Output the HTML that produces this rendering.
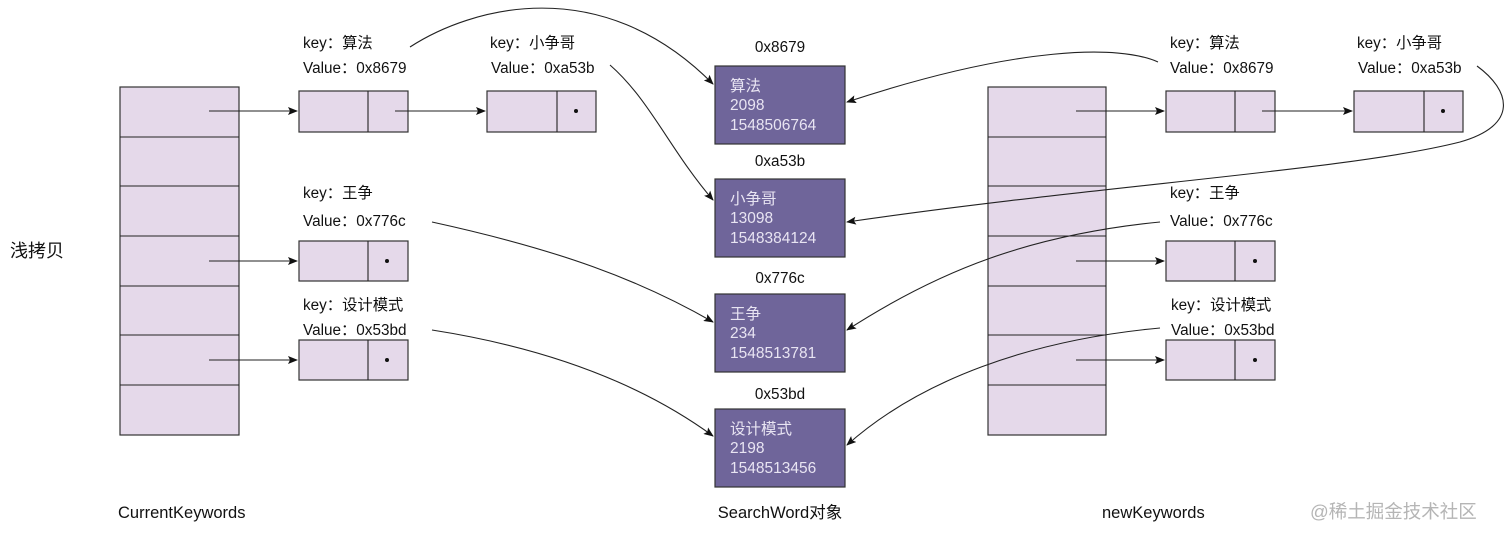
<!DOCTYPE html>
<html><head><meta charset="utf-8"><style>
html,body{margin:0;padding:0;background:#fff}
svg{display:block}
text{font-family:"Liberation Sans","Noto Sans CJK SC",sans-serif;font-size:15.3px;fill:#111}
.cell{fill:#e5d9ea;stroke:#333;stroke-width:1.2}
.pb{fill:#6f659a;stroke:#333;stroke-width:1.2}
.pt{fill:#e8e4f2;font-size:15.5px}
.ln{fill:none;stroke:#222;stroke-width:1.1}
</style></head><body>
<svg width="1512" height="536" viewBox="0 0 1512 536" xmlns="http://www.w3.org/2000/svg">
<defs><marker id="a" markerWidth="10" markerHeight="8" refX="9" refY="4" orient="auto" markerUnits="userSpaceOnUse"><path d="M0,0 L10,4 L0,8 L2,4 z" fill="#111"/></marker></defs>

<text x="10" y="257" style="font-size:18px">浅拷贝</text>

<g>
<rect class="cell" x="120" y="87" width="119" height="348"/>
<line class="ln" x1="120" y1="137" x2="239" y2="137"/>
<line class="ln" x1="120" y1="186" x2="239" y2="186"/>
<line class="ln" x1="120" y1="236" x2="239" y2="236"/>
<line class="ln" x1="120" y1="286" x2="239" y2="286"/>
<line class="ln" x1="120" y1="335" x2="239" y2="335"/>
<line class="ln" x1="120" y1="385" x2="239" y2="385"/>
</g>
<g>
<rect class="cell" x="988" y="87" width="118" height="348"/>
<line class="ln" x1="988" y1="137" x2="1106" y2="137"/>
<line class="ln" x1="988" y1="186" x2="1106" y2="186"/>
<line class="ln" x1="988" y1="236" x2="1106" y2="236"/>
<line class="ln" x1="988" y1="286" x2="1106" y2="286"/>
<line class="ln" x1="988" y1="335" x2="1106" y2="335"/>
<line class="ln" x1="988" y1="385" x2="1106" y2="385"/>
</g>

<rect class="cell" x="299" y="91" width="109" height="41"/><line class="ln" x1="368" y1="91" x2="368" y2="132"/>
<rect class="cell" x="487" y="91" width="109" height="41"/><line class="ln" x1="557" y1="91" x2="557" y2="132"/><circle cx="576" cy="111" r="2" fill="#111"/>
<rect class="cell" x="299" y="241" width="109" height="40"/><line class="ln" x1="368" y1="241" x2="368" y2="281"/><circle cx="387" cy="261" r="2" fill="#111"/>
<rect class="cell" x="299" y="340" width="109" height="40"/><line class="ln" x1="368" y1="340" x2="368" y2="380"/><circle cx="387" cy="360" r="2" fill="#111"/>
<line class="ln" x1="209" y1="111" x2="297" y2="111" marker-end="url(#a)"/>
<line class="ln" x1="395" y1="111" x2="485" y2="111" marker-end="url(#a)"/>
<line class="ln" x1="209" y1="261" x2="297" y2="261" marker-end="url(#a)"/>
<line class="ln" x1="209" y1="360" x2="297" y2="360" marker-end="url(#a)"/>

<rect class="cell" x="1166" y="91" width="109" height="41"/><line class="ln" x1="1235" y1="91" x2="1235" y2="132"/>
<rect class="cell" x="1354" y="91" width="109" height="41"/><line class="ln" x1="1424" y1="91" x2="1424" y2="132"/><circle cx="1443" cy="111" r="2" fill="#111"/>
<rect class="cell" x="1166" y="241" width="109" height="40"/><line class="ln" x1="1235" y1="241" x2="1235" y2="281"/><circle cx="1255" cy="261" r="2" fill="#111"/>
<rect class="cell" x="1166" y="340" width="109" height="40"/><line class="ln" x1="1235" y1="340" x2="1235" y2="380"/><circle cx="1255" cy="360" r="2" fill="#111"/>
<line class="ln" x1="1076" y1="111" x2="1164" y2="111" marker-end="url(#a)"/>
<line class="ln" x1="1262" y1="111" x2="1352" y2="111" marker-end="url(#a)"/>
<line class="ln" x1="1076" y1="261" x2="1164" y2="261" marker-end="url(#a)"/>
<line class="ln" x1="1076" y1="360" x2="1164" y2="360" marker-end="url(#a)"/>

<text x="303" y="48">key：算法</text><text x="303" y="73">Value：0x8679</text>
<text x="490" y="48">key：小争哥</text><text x="491" y="73">Value：0xa53b</text>
<text x="303" y="198">key：王争</text><text x="303" y="226">Value：0x776c</text>
<text x="303" y="310">key：设计模式</text><text x="303" y="335">Value：0x53bd</text>
<text x="1170" y="48">key：算法</text><text x="1170" y="73">Value：0x8679</text>
<text x="1357" y="48">key：小争哥</text><text x="1358" y="73">Value：0xa53b</text>
<text x="1170" y="198">key：王争</text><text x="1170" y="226">Value：0x776c</text>
<text x="1171" y="310">key：设计模式</text><text x="1171" y="335">Value：0x53bd</text>

<text x="780" y="52" text-anchor="middle">0x8679</text>
<rect class="pb" x="715" y="66" width="130" height="78"/>
<text class="pt" x="730" y="91">算法</text><text class="pt" x="730" y="110">2098</text><text class="pt" x="730" y="130">1548506764</text>
<text x="780" y="166" text-anchor="middle">0xa53b</text>
<rect class="pb" x="715" y="179" width="130" height="78"/>
<text class="pt" x="730" y="204">小争哥</text><text class="pt" x="730" y="223">13098</text><text class="pt" x="730" y="243">1548384124</text>
<text x="780" y="283" text-anchor="middle">0x776c</text>
<rect class="pb" x="715" y="294" width="130" height="78"/>
<text class="pt" x="730" y="319">王争</text><text class="pt" x="730" y="338">234</text><text class="pt" x="730" y="358">1548513781</text>
<text x="780" y="399" text-anchor="middle">0x53bd</text>
<rect class="pb" x="715" y="409" width="130" height="78"/>
<text class="pt" x="730" y="434">设计模式</text><text class="pt" x="730" y="453">2198</text><text class="pt" x="730" y="473">1548513456</text>

<path class="ln" d="M410,47 C470,8 600,-30 713,84" marker-end="url(#a)"/>
<path class="ln" d="M610,65 C650,100 670,150 713,200" marker-end="url(#a)"/>
<path class="ln" d="M432,222 C560,250 640,280 713,322" marker-end="url(#a)"/>
<path class="ln" d="M432,330 C560,350 650,390 713,436" marker-end="url(#a)"/>
<path class="ln" d="M1158,62 C1120,45 1020,45 847,102" marker-end="url(#a)"/>
<path class="ln" d="M1477,66 C1510,90 1520,125 1460,142 C1350,170 1100,185 847,222" marker-end="url(#a)"/>
<path class="ln" d="M1160,222 C1030,235 940,270 847,330" marker-end="url(#a)"/>
<path class="ln" d="M1160,328 C1030,340 920,380 847,445" marker-end="url(#a)"/>

<text x="118" y="518" style="font-size:16.5px">CurrentKeywords</text>
<text x="780" y="518" text-anchor="middle" style="font-size:16.5px">SearchWord对象</text>
<text x="1102" y="518" style="font-size:16.5px">newKeywords</text>
<text x="1310" y="518" style="fill:#b5b5b5;font-size:18.5px">@稀土掘金技术社区</text>
</svg>
</body></html>
